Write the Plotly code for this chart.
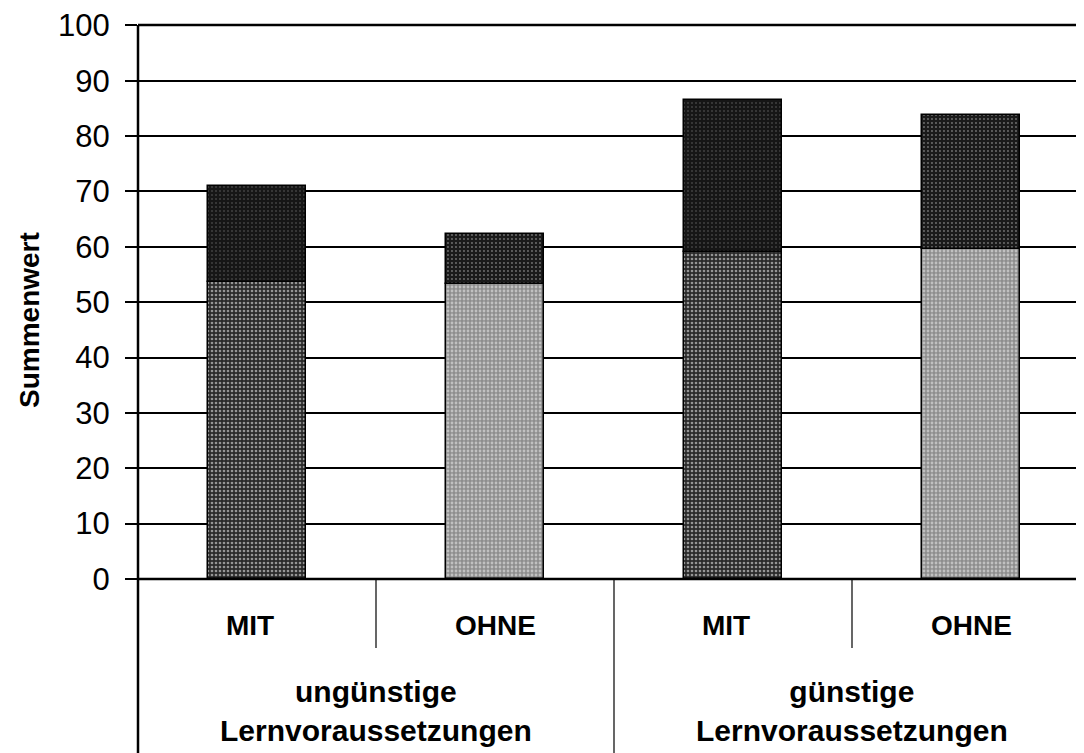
import plotly.graph_objects as go

# ---- data ----
groups = ["ungünstige<br>Lernvoraussetzungen", "günstige<br>Lernvoraussetzungen"]
conditions = ["MIT", "OHNE", "MIT", "OHNE"]
bottom_values = [53.6, 53.3, 59.1, 59.6]
top_values = [17.4, 9.0, 27.4, 24.2]
y_ticks = [0, 10, 20, 30, 40, 50, 60, 70, 80, 90, 100]

OFF = 8  # default page body margin
W, H = 1084 - OFF, 753 - OFF
ML, MR, MT, MB = 138 - OFF, 0, 25 - OFF, 753 - 579
cat_px = 238.0
x_pos = list(range(len(conditions)))
x_min = -0.5
x_max = x_min + (W - ML - MR) / cat_px
PH = H - MT - MB

FONT = "Liberation Sans, Arial, sans-serif"

bottom_styles = [
    dict(color="#2a2a2a", pattern=dict(shape=".", fgcolor="#ffffff", bgcolor="#2a2a2a", size=4, solidity=0.35)),
    dict(color="#8e8e8e", pattern=dict(shape=".", fgcolor="#f4f4f4", bgcolor="#8e8e8e", size=4, solidity=0.38)),
]
top_styles = [
    dict(color="#161616", pattern=dict(shape=".", fgcolor="#6a6a6a", bgcolor="#161616", size=4, solidity=0.2)),
    dict(color="#1a1a1a", pattern=dict(shape=".", fgcolor="#c8c8c8", bgcolor="#1a1a1a", size=4, solidity=0.18)),
]

fig = go.Figure()
for i in range(len(conditions)):
    s = i % 2
    fig.add_trace(go.Bar(
        x=[x_pos[i]], y=[bottom_values[i]], width=0.41,
        marker=dict(color=bottom_styles[s]["color"], pattern=bottom_styles[s]["pattern"],
                    line=dict(color="#000000", width=1.5)),
        showlegend=False, hoverinfo="y"))
for i in range(len(conditions)):
    s = i % 2
    fig.add_trace(go.Bar(
        x=[x_pos[i]], y=[top_values[i]], base=[bottom_values[i]], width=0.41,
        marker=dict(color=top_styles[s]["color"], pattern=top_styles[s]["pattern"],
                    line=dict(color="#000000", width=1.5)),
        showlegend=False, hoverinfo="y"))

fig.update_layout(
    width=W, height=H,
    margin=dict(l=ML, r=MR, t=MT, b=MB, pad=0),
    paper_bgcolor="white", plot_bgcolor="white",
    barmode="overlay", bargap=0,
    font=dict(family=FONT, color="#000000"),
    showlegend=False,
)
fig.update_xaxes(range=[x_min, x_max], showticklabels=False, showgrid=False,
                 zeroline=False, showline=False, ticks="")
fig.update_yaxes(range=[0, 100.05], tickvals=y_ticks, ticktext=[str(v) for v in y_ticks],
                 showgrid=True, gridcolor="#000000", gridwidth=1.5,
                 zeroline=False, showline=False,
                 ticks="outside", ticklen=12, tickwidth=1.5, tickcolor="#000000",
                 ticklabelstandoff=9, ticklabeloverflow="allow",
                 tickfont=dict(family=FONT, size=31, color="#000000"))

frac = lambda xv: (xv - x_min) / (x_max - x_min)
bottom_paper = -MB / PH
shapes = []
shapes.append(dict(type="line", xref="paper", yref="paper", x0=0, x1=0, y0=1, y1=bottom_paper,
                   line=dict(color="#000000", width=2.5)))
shapes.append(dict(type="line", xref="paper", yref="paper", x0=0, x1=1, y0=0, y1=0,
                   line=dict(color="#000000", width=2.5)))
shapes.append(dict(type="line", xref="paper", yref="paper", x0=0, x1=1, y0=1, y1=1,
                   line=dict(color="#000000", width=2.5)))
short_end = -(648 - 579) / PH
for b in [0.5, 2.5]:
    shapes.append(dict(type="line", xref="paper", yref="paper", x0=frac(b), x1=frac(b),
                       y0=0, y1=short_end, line=dict(color="#000000", width=1.2)))
shapes.append(dict(type="line", xref="paper", yref="paper", x0=frac(1.5), x1=frac(1.5),
                   y0=0, y1=bottom_paper, line=dict(color="#000000", width=1.2)))
fig.update_layout(shapes=shapes)

ann = []
for i, c in enumerate(conditions):
    ann.append(dict(x=x_pos[i] - 0.03 if c == "MIT" else x_pos[i], xref="x",
                    y=-(625 - 579) / PH, yref="paper",
                    text=c, showarrow=False, xanchor="center", yanchor="middle",
                    font=dict(family=FONT, size=28, color="#000000", weight="bold")))
for g, label in enumerate(groups):
    ann.append(dict(x=2 * g + 0.5, xref="x",
                    y=-(711 - 579) / PH, yref="paper",
                    text=label, showarrow=False, xanchor="center", yanchor="middle",
                    font=dict(family=FONT, size=30, color="#000000", weight="bold")))
ann.append(dict(x=-(138 - 29) / (W - ML - MR), xref="paper",
                y=(579 - 320) / PH, yref="paper",
                text="Summenwert", textangle=-90, showarrow=False,
                xanchor="center", yanchor="middle",
                font=dict(family=FONT, size=28, color="#000000", weight="bold")))
fig.update_layout(annotations=ann)

fig.write_html("out.html")
